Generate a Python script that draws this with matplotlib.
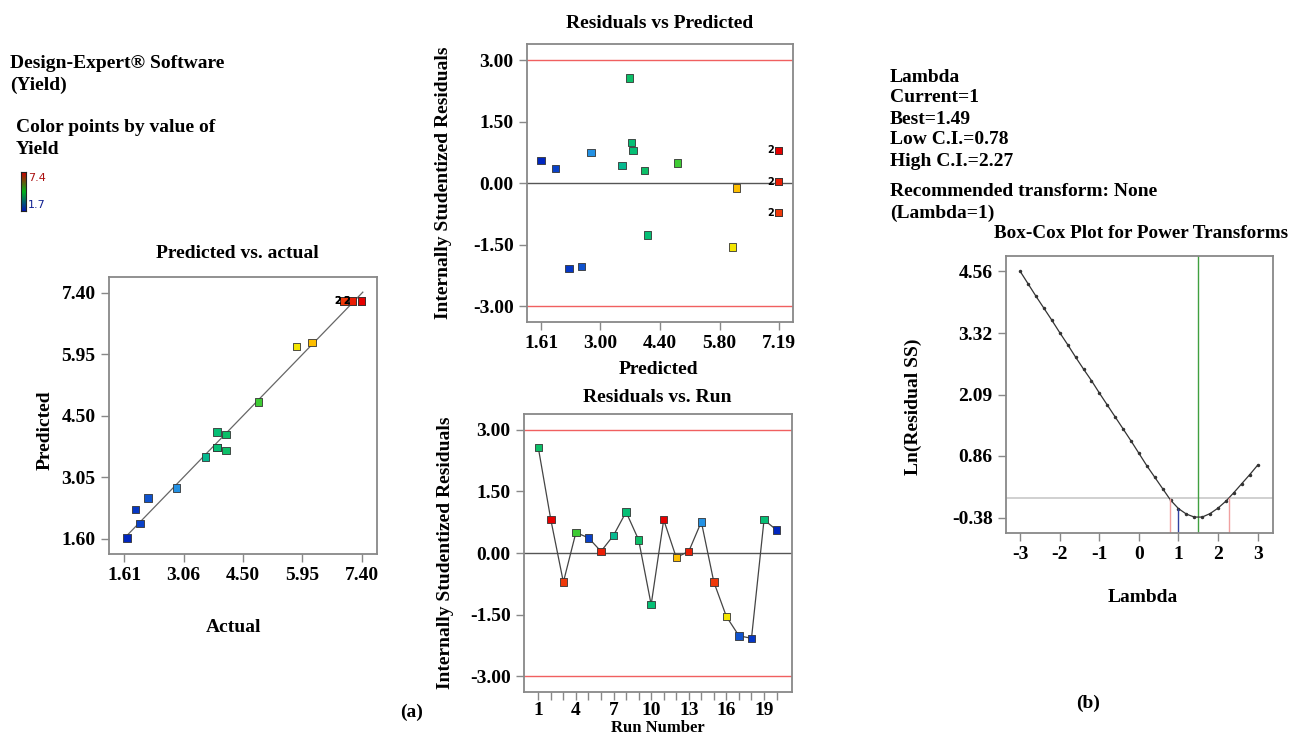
import numpy as np
import matplotlib
matplotlib.use("Agg")
import matplotlib.pyplot as plt
from matplotlib.colors import LinearSegmentedColormap

W, H = 1290, 737

# run data
runs = list(range(1, 21))
actual = [4.09, 7.38, 6.96, 4.88, 2.00, 7.17, 3.59, 3.87, 4.09, 3.87,
          7.38, 6.18, 7.17, 2.88, 6.96, 5.81, 2.19, 1.89, 3.87, 1.68]
predicted = [3.68, 7.19, 7.19, 4.81, 1.95, 7.19, 3.51, 3.73, 4.04, 4.11,
             7.19, 6.20, 7.19, 2.78, 7.19, 6.11, 2.56, 2.27, 3.77, 1.61]
pred_fit = [3.69, 7.21, 7.21, 4.83, 1.96, 7.21, 3.53, 3.76, 4.06, 4.12,
            7.21, 6.24, 7.21, 2.80, 7.21, 6.14, 2.57, 2.30, 3.76, 1.62]
residuals = [2.57, 0.81, -0.71, 0.50, 0.37, 0.04, 0.43, 1.00, 0.32, -1.26,
             0.81, -0.11, 0.04, 0.76, -0.71, -1.55, -2.02, -2.08, 0.81, 0.56]

# box-cox curve
lam = [-3.0, -2.8, -2.6, -2.4, -2.2, -2.0, -1.8, -1.6, -1.4, -1.2, -1.0,
       -0.8, -0.6, -0.4, -0.2, 0.0, 0.2, 0.4, 0.6, 0.8, 1.0, 1.2, 1.4,
       1.6, 1.8, 2.0, 2.2, 2.4, 2.6, 2.8, 3.0]
ln_ss = [4.56, 4.31, 4.06, 3.82, 3.58, 3.33, 3.09, 2.84, 2.60, 2.37, 2.12,
         1.88, 1.64, 1.40, 1.16, 0.91, 0.66, 0.43, 0.20, -0.03, -0.20, -0.31,
         -0.37, -0.37, -0.30, -0.19, -0.05, 0.12, 0.30, 0.48, 0.67]
ci_level = 0.02
lam_current, lam_best, lam_low, lam_high = 1.0, 1.49, 0.78, 2.27

yield_min, yield_max = 1.7, 7.4

FONT = "Liberation Serif"
plt.rcParams["font.family"] = FONT
plt.rcParams["font.weight"] = "bold"
plt.rcParams["axes.unicode_minus"] = False

cmap = LinearSegmentedColormap.from_list("de", [
    (0.00, (0.0, 0.15, 0.75)),
    (0.22, (0.15, 0.6, 0.9)),
    (0.35, (0.0, 0.75, 0.5)),
    (0.50, (0.1, 0.75, 0.3)),
    (0.62, (0.4, 0.85, 0.1)),
    (0.72, (0.95, 0.9, 0.0)),
    (0.80, (1.0, 0.72, 0.0)),
    (0.90, (0.95, 0.3, 0.05)),
    (1.00, (0.9, 0.0, 0.0)),
])


def col(v):
    return cmap((v - yield_min) / (yield_max - yield_min))


def box(l, t, r, b):
    return [l / W, 1 - b / H, (r - l) / W, (b - t) / H]


def ftext(x, y, s, **kw):
    kw.setdefault("fontsize", 14)
    kw.setdefault("fontweight", "bold")
    fig.text(x / W, 1 - y / H, s, **kw)


def style(ax):
    for sp in ax.spines.values():
        sp.set_color("#888888")
        sp.set_linewidth(1.3)
    ax.tick_params(direction="out", color="#888888", length=6, width=1,
                   labelsize=14, top=False, right=False)
    for lb in ax.get_xticklabels() + ax.get_yticklabels():
        lb.set_fontweight("bold")


fig = plt.figure(figsize=(W / 100, H / 100), dpi=100)
colors = [col(a) for a in actual]

# ---- predicted vs actual
ax1 = fig.add_axes(box(109, 277, 377, 554))
ax1.plot([1.7, 7.42], [1.7, 7.42], color="#666666", lw=0.9, zorder=1)
ax1.scatter(actual, pred_fit, marker="s", s=28, c=colors,
            edgecolors="#333333", linewidths=0.6, zorder=3)
for a, p in zip(actual, pred_fit):
    if p > 7.0 and a < 7.3:
        ax1.text(a - 0.06, p, "2", fontsize=7, ha="right", va="center",
                 fontfamily="DejaVu Sans", fontweight="bold")
ax1.set_xlim(1.245, 7.765)
ax1.set_ylim(1.246, 7.777)
ax1.set_xticks([1.61, 3.06, 4.50, 5.95, 7.40])
ax1.set_xticklabels(["1.61", "3.06", "4.50", "5.95", "7.40"])
ax1.set_yticks([1.60, 3.05, 4.50, 5.95, 7.40])
ax1.set_yticklabels(["1.60", "3.05", "4.50", "5.95", "7.40"])
style(ax1)

# ---- residuals vs predicted
ax2 = fig.add_axes(box(527, 44, 793, 322))
ax2.axhline(3.0, color="#f06060", lw=1)
ax2.axhline(-3.0, color="#f06060", lw=1)
ax2.axhline(0.0, color="#555555", lw=1)
ax2.scatter(predicted, residuals, marker="s", s=28, c=colors,
            edgecolors="#333333", linewidths=0.6, zorder=3)
seen = set()
for p, r in zip(predicted, residuals):
    if p > 7.0 and r not in seen:
        seen.add(r)
        ax2.text(p - 0.1, r, "2", fontsize=7, ha="right", va="center",
                 fontfamily="DejaVu Sans", fontweight="bold")
ax2.set_xlim(1.28, 7.525)
ax2.set_ylim(-3.38, 3.40)
ax2.set_xticks([1.61, 3.00, 4.40, 5.80, 7.19])
ax2.set_xticklabels(["1.61", "3.00", "4.40", "5.80", "7.19"])
ax2.set_yticks([-3.0, -1.5, 0.0, 1.5, 3.0])
ax2.set_yticklabels(["-3.00", "-1.50", "0.00", "1.50", "3.00"])
style(ax2)

# ---- residuals vs run
ax3 = fig.add_axes(box(524, 414, 792, 692))
ax3.axhline(3.0, color="#f06060", lw=1)
ax3.axhline(-3.0, color="#f06060", lw=1)
ax3.axhline(0.0, color="#555555", lw=1)
ax3.plot(runs, residuals, color="#444444", lw=0.9, zorder=2)
ax3.scatter(runs, residuals, marker="s", s=28, c=colors,
            edgecolors="#333333", linewidths=0.6, zorder=3)
ax3.set_xlim(-0.14, 21.23)
ax3.set_ylim(-3.39, 3.39)
ax3.set_xticks(runs)
ax3.set_xticklabels([str(r) if r in (1, 4, 7, 10, 13, 16, 19) else "" for r in runs])
ax3.set_yticks([-3.0, -1.5, 0.0, 1.5, 3.0])
ax3.set_yticklabels(["-3.00", "-1.50", "0.00", "1.50", "3.00"])
style(ax3)
ax3.tick_params(axis="x", pad=1.5)

# ---- box-cox
ax4 = fig.add_axes(box(1006, 256, 1273, 533))
ax4.axhline(ci_level, color="#c8c8c8", lw=1.2)
ax4.axvline(lam_best, color="#40a040", lw=1)
ax4.plot(lam, ln_ss, color="#333333", lw=0.9, marker="o", markersize=1.5)
yb = -0.69
ax4.plot([lam_low, lam_low], [yb, np.interp(lam_low, lam, ln_ss)], color="#f0a0a0", lw=1)
ax4.plot([lam_high, lam_high], [yb, np.interp(lam_high, lam, ln_ss)], color="#f0a0a0", lw=1)
ax4.plot([lam_current, lam_current], [yb, np.interp(lam_current, lam, ln_ss)], color="#3040a0", lw=1)
ax4.set_xlim(-3.36, 3.39)
ax4.set_ylim(yb, 4.87)
ax4.set_xticks([-3, -2, -1, 0, 1, 2, 3])
ax4.set_xticklabels(["-3", "-2", "-1", "0", "1", "2", "3"])
ax4.set_yticks([-0.38, 0.86, 2.09, 3.32, 4.56])
ax4.set_yticklabels(["-0.38", "0.86", "2.09", "3.32", "4.56"])
style(ax4)

# ---- titles and labels
ftext(237, 253, "Predicted vs. actual", ha="center", va="center", fontsize=14)
ftext(45, 430, "Predicted", ha="center", va="center", rotation=90)
ftext(234, 627, "Actual", ha="center", va="center")
ftext(660, 23, "Residuals vs Predicted", ha="center", va="center")
ftext(443, 183, "Internally Studentized Residuals", ha="center", va="center", rotation=90)
ftext(658, 369, "Predicted", ha="center", va="center")
ftext(657, 397, "Residuals vs. Run", ha="center", va="center")
ftext(446, 553, "Internally Studentized Residuals", ha="center", va="center", rotation=90)
ftext(658, 736, "Run Number", ha="center", va="bottom", fontsize=12)
ftext(1141, 233, "Box-Cox Plot for Power Transforms", ha="center", va="center", fontsize=13.8)
ftext(913, 407, "Ln(Residual SS)", ha="center", va="center", rotation=90)
ftext(1143, 598, "Lambda", ha="center", va="center")
ftext(412, 712, "(a)", ha="center", va="center")
ftext(1088, 703, "(b)", ha="center", va="center")

ftext(10, 64, "Design-Expert\u00ae Software", va="center")
ftext(10, 85, "(Yield)", va="center")
ftext(16, 128, "Color points by value of", va="center")
ftext(16, 149, "Yield", va="center")

info = ["Lambda", "Current=1", "Best=1.49", "Low C.I.=0.78", "High C.I.=2.27"]
for i, s in enumerate(info):
    ftext(890, 77 + i * 21, s, va="center")
ftext(890, 192, "Recommended transform: None", va="center")
ftext(890, 213, "(Lambda=1)", va="center")

# colour key
axc = fig.add_axes(box(21, 172, 25.5, 211))
axc.imshow(np.linspace(1, 0, 50).reshape(-1, 1), aspect="auto",
           cmap=LinearSegmentedColormap.from_list("k", [(0, 0.1, 0.7), (0, 0.7, 0.1), (0.8, 0, 0)]))
axc.set_xticks([])
axc.set_yticks([])
for sp in axc.spines.values():
    sp.set_color("#222222")
    sp.set_linewidth(0.8)
ftext(28, 178, "7.4", va="center", fontsize=8, color="#aa1010", fontfamily="DejaVu Sans", fontweight="normal")
ftext(28, 205, "1.7", va="center", fontsize=8, color="#102090", fontfamily="DejaVu Sans", fontweight="normal")

fig.savefig("out.png", dpi=100, facecolor="white")
